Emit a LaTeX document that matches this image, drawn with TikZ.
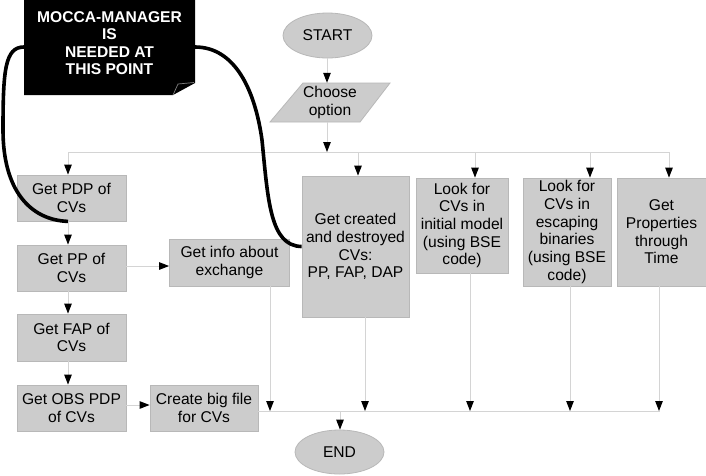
\documentclass[tikz,border=0pt]{standalone}
\usepackage{fontspec}
\setmainfont{Liberation Sans}
\usetikzlibrary{arrows.meta,shapes.geometric}
\definecolor{boxfill}{HTML}{CCCCCC}
\definecolor{boxline}{HTML}{B8B8B8}
\definecolor{wire}{HTML}{D4D4D4}
\tikzset{
  stepbox/.style={rectangle, fill=boxfill, draw=boxline, line width=0.8pt, align=center, inner sep=1pt,
    font=\fontsize{15.6}{17.7}\selectfont},
  term/.style={ellipse, fill=boxfill, draw=boxline, line width=0.8pt, minimum width=89pt, minimum height=45pt,
    inner sep=0pt, font=\fontsize{15.6}{17.7}\selectfont},
  wireline/.style={draw=wire, line width=1pt},
  arr/.style={wireline, -{Triangle[width=7.5pt,length=10pt,color=black]}},
  bold curve/.style={line width=3.6pt, black},
}
\begin{document}
\begin{tikzpicture}[x=1pt,y=-1pt]
\useasboundingbox[fill=white] (0,0) rectangle (706,475);

% callout
\fill[black] (24,0) -- (195,0) -- (195,83) -- (173,95) -- (24,95) -- cycle;
\draw[gray, line width=0.7pt] (173,95) -- (178,84) -- (194,82.5);
\node[text=white, align=center, inner sep=0pt, font=\fontsize{15.6}{17.5}\selectfont\bfseries]
  (note) at (109.5,43) {MOCCA-MANAGER\\IS\\NEEDED AT\\THIS POINT};
\coordinate (noteW) at (24,47);
\coordinate (noteE) at (195,47);

% column reference coordinates
\coordinate (colL) at (68,0);
\coordinate (colS) at (327,0);
\coordinate (busTL) at (68,152);
\coordinate (busTR) at (669,152);
\coordinate (busBL) at (258,411);
\coordinate (busBR) at (660,411);
\coordinate (xC) at (358,0);
\coordinate (xI) at (475,0);
\coordinate (xE) at (590,0);
\coordinate (xP) at (669,0);
\coordinate (bInfo) at (270,0);
\coordinate (bC) at (365,0);
\coordinate (bI) at (470,0);
\coordinate (bE) at (570,0);
\coordinate (bP) at (659,0);
\coordinate (bEnd) at (340,0);
\coordinate (yPP) at (0,266);
\coordinate (yOBS) at (0,405);

% nodes
\node[term] (start) at (327.5,35.5) {START};
\filldraw[fill=boxfill, draw=boxline, line width=0.8pt] (303,83) -- (390,83) -- (360,122) -- (270,122) -- cycle;
\node[rectangle, minimum width=90pt, minimum height=39pt, inner sep=0pt, align=center,
  font=\fontsize{15.6}{17.7}\selectfont] (choose) at (330,102.5) {Choose\\option};

\node[stepbox, minimum width=109pt, minimum height=46pt] (pdp) at (71.5,198) {Get PDP of\\CVs};
\node[stepbox, minimum width=109pt, minimum height=46pt] (pp) at (71.5,268) {Get PP of\\CVs};
\node[stepbox, minimum width=109pt, minimum height=47pt] (fap) at (71.5,337.5) {Get FAP of\\CVs};
\node[stepbox, minimum width=109pt, minimum height=46pt] (obs) at (71.5,408) {Get OBS PDP\\of CVs};
\node[stepbox, minimum width=120pt, minimum height=47pt] (info) at (229.5,262.5) {Get info about\\exchange};
\node[stepbox, minimum width=108pt, minimum height=46pt] (big) at (204,408) {Create big file\\for CVs};
\node[stepbox, minimum width=107pt, minimum height=141pt] (created) at (355.5,246.5)
  {Get created\\and destroyed\\CVs:\\PP, FAP, DAP};
\node[stepbox, minimum width=92pt, minimum height=95pt] (initial) at (462,225.5)
  {Look for\\CVs in\\initial model\\(using BSE\\code)};
\node[stepbox, minimum width=88pt, minimum height=108pt] (escaping) at (567,232)
  {Look for\\CVs in\\escaping\\binaries\\(using BSE\\code)};
\node[stepbox, minimum width=89pt, minimum height=108pt] (props) at (661.5,232)
  {Get\\Properties\\through\\Time};
\node[term, minimum height=44pt] (end) at (339.5,452) {END};

% top flow
\draw[arr] (start.south -| colS) -- (colS |- choose.north);
\draw[arr] (choose.south -| colS) -- (colS |- busTL);
\draw[wireline] (busTL) -- (busTR);
\draw[arr] (busTL) -- (pdp.north -| colL);
\draw[arr] (xC |- busTL) -- (xC |- created.north);
\draw[arr] (xI |- busTL) -- (xI |- initial.north);
\draw[arr] (xE |- busTL) -- (xE |- escaping.north);
\draw[arr] (busTR) -- (xP |- props.north);

% left column
\draw[arr] (pdp.south -| colL) -- (pp.north -| colL);
\draw[arr] (pp.south -| colL) -- (fap.north -| colL);
\draw[arr] (fap.south -| colL) -- (obs.north -| colL);
\draw[arr] (pp.east |- yPP) -- (info.west |- yPP);
\draw[arr] (obs.east |- yOBS) -- (big.west |- yOBS);

% bottom bus
\draw[wireline] (busBL) -- (busBR);
\draw[arr] (info.south -| bInfo) -- (bInfo |- busBL);
\draw[arr] (created.south -| bC) -- (bC |- busBL);
\draw[arr] (initial.south -| bI) -- (bI |- busBL);
\draw[arr] (escaping.south -| bE) -- (bE |- busBL);
\draw[arr] (props.south -| bP) -- (bP |- busBL);
\draw[arr] (bEnd |- busBL) -- (end.north -| bEnd);

% callout curves
\draw[bold curve] (noteW) .. controls (5,47) and (3,70) .. (3,130)
  .. controls (3,190) and (30,220) .. (pdp.south -| colL);
\draw[bold curve] (noteE) .. controls (235,47) and (255,90) .. (262,140)
  .. controls (268,200) and (270,246) .. (created.west);
\end{tikzpicture}
\end{document}
